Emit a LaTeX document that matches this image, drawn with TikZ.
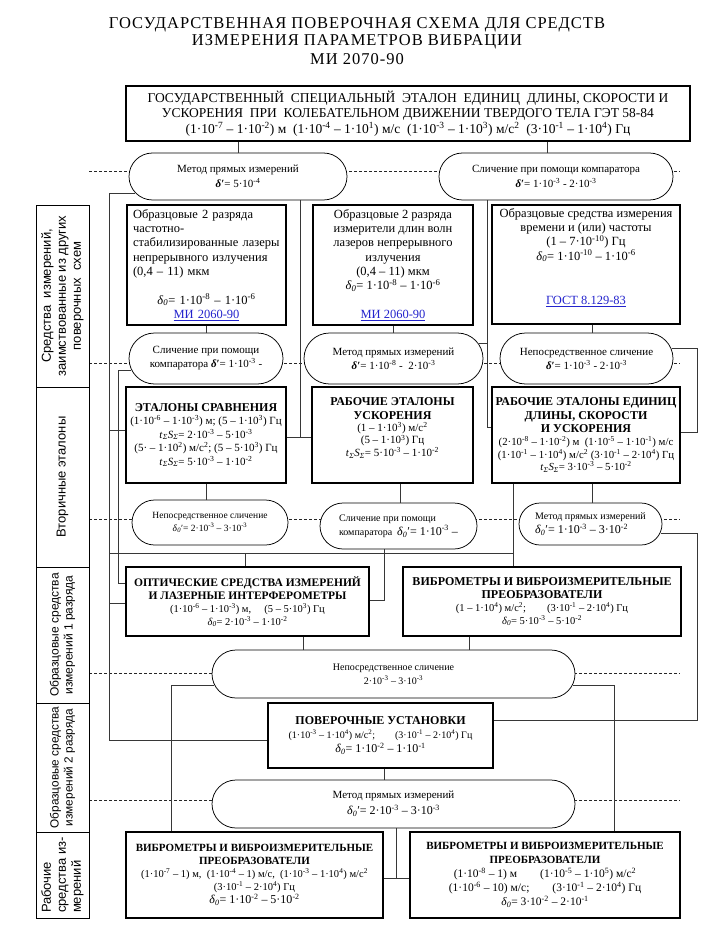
\documentclass[tikz,border=0pt]{standalone}
\usepackage{fontspec}
\setmainfont{Liberation Serif}
\newfontfamily\labfont{Liberation Sans}
\newfontfamily\titlefont[LetterSpace=6]{Liberation Serif}
\usetikzlibrary{shapes.misc}
\definecolor{linkblue}{RGB}{35,35,205}
\definecolor{lncol}{RGB}{55,55,55}
\newcommand\xp[1]{\textsuperscript{#1}}
\newcommand\dz{\textit{δ}\textsubscript{\textit{0}}}
\newcommand\dpr{\textbf{\textit{δ}′}}
\newcommand\dzp{\textit{δ}\textsubscript{\textit{0}}′}
\newcommand\tS{\textit{t}\textsubscript{\textit{Σ}}\textit{S}\textsubscript{\textit{Σ}}}
\newcommand\lnk[1]{\textcolor{linkblue}{\underline{#1}}}
\newcommand\fs[2]{\fontsize{#1}{#2}\selectfont}
\newcommand\hd[2][12]{{\bfseries\fontsize{#1}{14}\selectfont #2}}
\begin{document}
\begin{tikzpicture}[x=1pt,y=-1pt,
  box/.style={draw, line width=1.4pt, fill=white, align=center, inner sep=1pt},
  oval/.style={draw, rounded rectangle, line width=0.75pt, fill=white, align=center, inner sep=1pt},
  labbox/.style={draw, line width=0.7pt, rotate=90, align=center, inner sep=1pt, font=\labfont\fs{13}{15}},
  conn/.style={line width=0.8pt, draw=lncol},
  dline/.style={line width=0.6pt, dash pattern=on 3pt off 2pt, draw=black!85}]
\useasboundingbox[fill=white] (0,0) rectangle (717,949);

% title
\node[font=\titlefont\fs{16.5}{18}] (title1) at (357,25) {ГОСУДАРСТВЕННАЯ ПОВЕРОЧНАЯ СХЕМА ДЛЯ СРЕДСТВ};
\node[font=\titlefont\fs{16.5}{18}] (title2) at (357,42) {ИЗМЕРЕНИЯ ПАРАМЕТРОВ ВИБРАЦИИ};
\node[font=\titlefont\fs{16.5}{18}] (title3) at (357,59) {МИ 2070-90};

% dashed level lines
\foreach \yy in {171,363,519,673,800} \draw[dline] (89,\yy) -- (680,\yy);

% left labels
\node[labbox, minimum width=182pt, minimum height=53pt] (L1) at (62.5,296) {Средства\ \ измерений,\\заимствованные из других\\поверочных\ \ схем};
\node[labbox, minimum width=180pt, minimum height=53pt] (L2) at (62.5,477) {Вторичные эталоны};
\node[labbox, minimum width=136pt, minimum height=53pt, font=\labfont\fs{12}{14}] (L3) at (62.5,635) {Образцовые средства\\измерений 1 разряда};
\node[labbox, minimum width=129pt, minimum height=53pt, font=\labfont\fs{11.8}{14}] (L4) at (62.5,767.5) {Образцовые средства\\измерений 2 разряда};
\node[labbox, minimum width=86pt, minimum height=53pt, align=left] (L5) at (62.5,875) {Рабочие\\средства из-\\мерений};

% top box
\node[box, line width=1.6pt, minimum width=564pt, minimum height=55pt, font=\fs{13.5}{15.5}] (T) at (408,113.5)
 {ГОСУДАРСТВЕННЫЙ\ \ СПЕЦИАЛЬНЫЙ\ \ ЭТАЛОН\ \ ЕДИНИЦ\ \ ДЛИНЫ, СКОРОСТИ И\\
  УСКОРЕНИЯ\ \ ПРИ\ \ КОЛЕБАТЕЛЬНОМ ДВИЖЕНИИ ТВЕРДОГО ТЕЛА ГЭТ 58-84\\
  (1·10\xp{-7} – 1·10\xp{-2}) м\ \ (1·10\xp{-4} – 1·10\xp{1}) м/с\ \ (1·10\xp{-3} – 1·10\xp{3}) м/с\xp{2}\ \ (3·10\xp{-1} – 1·10\xp{4}) Гц};

% row 1 ovals
\node[oval, minimum width=220pt, minimum height=47pt, font=\fs{11}{15}] (O1) at (238,176.5) {Метод прямых измерений\\\dpr = 5·10\xp{-4}};
\node[oval, minimum width=236pt, minimum height=47pt, font=\fs{11}{15}] (O2) at (556,176.5) {Сличение при помощи компаратора\\\dpr = 1·10\xp{-3} - 2·10\xp{-3}};

% row 1 boxes
\node[box, minimum width=159pt, minimum height=120pt, text width=147pt, align=left, font=\fs{12.5}{14.3}] (B1) at (206.5,265)
 {Образцовые 2 разряда\\частотно-\\стабилизированные лазеры\\непрерывного излучения\\(0,4 – 11) мкм\\[14.3pt]\makebox[147pt]{\dz = 1·10\xp{-8} – 1·10\xp{-6}}\\\makebox[147pt]{\lnk{МИ 2060-90}}};
\node[box, minimum width=160pt, minimum height=120pt, font=\fs{12.5}{14.3}] (B2) at (393,265)
 {Образцовые 2 разряда\\измерители длин волн\\лазеров непрерывного\\излучения\\(0,4 – 11) мкм\\\dz = 1·10\xp{-8} – 1·10\xp{-6}\\[14.3pt]\lnk{МИ 2060-90}};
\node[box, minimum width=188pt, minimum height=119pt] (B3) at (586,264.5) {};
\node[anchor=north, align=center, font=\fs{12.5}{14.3}, inner sep=0pt] (B3t) at (586,208)
 {Образцовые средства измерения\\времени и (или) частоты\\(1 – 7·10\xp{-10}) Гц\\\dz = 1·10\xp{-10} – 1·10\xp{-6}\\[30pt]\lnk{ГОСТ 8.129-83}};

% row 2 ovals
\node[oval, minimum width=156pt, minimum height=51pt, font=\fs{11}{14}] (OA) at (206,358.5) {Сличение при помощи\\компаратора \dpr = 1·10\xp{-3} -};
\node[oval, minimum width=181pt, minimum height=51pt, font=\fs{11}{14}] (OB) at (393.5,358.5) {Метод прямых измерений\\\dpr = 1·10\xp{-8} -\ \ 2·10\xp{-3}};
\node[oval, minimum width=175pt, minimum height=51pt, font=\fs{11}{14}] (OC) at (586.5,358.5) {Непосредственное сличение\\\dpr = 1·10\xp{-3} - 2·10\xp{-3}};

% row 2 boxes
\node[box, minimum width=160pt, minimum height=96pt, font=\fs{11}{13.5}] (F) at (206,435)
 {\hd{ЭТАЛОНЫ СРАВНЕНИЯ}\\(1·10\xp{-6} – 1·10\xp{-3}) м; (5 – 1·10\xp{3}) Гц\\\tS = 2·10\xp{-3} – 5·10\xp{-3}\\(5· – 1·10\xp{2}) м/с\xp{2}; (5 – 5·10\xp{3}) Гц\\\tS = 5·10\xp{-3} – 1·10\xp{-2}};
\node[box, minimum width=161pt, minimum height=96pt, font=\fs{11}{11}] (G) at (392.5,435)
 {\hd{РАБОЧИЕ ЭТАЛОНЫ}\\[3pt]\hd{УСКОРЕНИЯ}\\[1pt](1 – 1·10\xp{3}) м/с\xp{2}\\(5 – 1·10\xp{3}) Гц\\\tS = 5·10\xp{-3} – 1·10\xp{-2}\\[5pt]\mbox{}};
\node[box, minimum width=188pt, minimum height=96pt, font=\fs{10.8}{11}] (H) at (586,435)
 {\hd{РАБОЧИЕ ЭТАЛОНЫ ЕДИНИЦ}\\[3pt]\hd{ДЛИНЫ, СКОРОСТИ}\\[2pt]\hd{И УСКОРЕНИЯ}\\[2pt](2·10\xp{-8} – 1·10\xp{-2}) м\ \ (1·10\xp{-5} – 1·10\xp{-1}) м/с\\(1·10\xp{-1} – 1·10\xp{4}) м/с\xp{2} (3·10\xp{-1} – 2·10\xp{4}) Гц\\\tS = 3·10\xp{-3} – 5·10\xp{-2}};

% row 3 ovals
\node[oval, minimum width=158pt, minimum height=45pt, font=\fs{9.5}{13}] (OD) at (210,522.5) {Непосредственное сличение\\\dzp = 2·10\xp{-3} – 3·10\xp{-3}};
\node[oval, minimum width=159pt, minimum height=46pt, align=left, font=\fs{10}{14}] (OE) at (398.5,526) {Сличение при помощи\\компаратора\ \ {\fs{12}{14}\dzp = 1·10\xp{-3} –}};
\node[oval, minimum width=145pt, minimum height=42pt, align=left, font=\fs{10}{14}] (OF) at (590.5,524) {Метод прямых измерений\\{\fs{12}{14}\dzp = 1·10\xp{-3} – 3·10\xp{-2}}};

% row 4 boxes
\node[box, minimum width=243pt, minimum height=69pt, font=\fs{10.5}{13}] (I) at (247.5,601.5)
 {\hd[11.5]{ОПТИЧЕСКИЕ СРЕДСТВА ИЗМЕРЕНИЙ}\\\hd[11.5]{И ЛАЗЕРНЫЕ ИНТЕРФЕРОМЕТРЫ}\\(1·10\xp{-6} – 1·10\xp{-3}) м,\quad\ (5 – 5·10\xp{3}) Гц\\\dz = 2·10\xp{-3} – 1·10\xp{-2}};
\node[box, minimum width=278pt, minimum height=69pt, font=\fs{10.5}{13}] (J) at (542,601.5)
 {\hd{ВИБРОМЕТРЫ И ВИБРОИЗМЕРИТЕЛЬНЫЕ}\\\hd{ПРЕОБРАЗОВАТЕЛИ}\\(1 – 1·10\xp{4}) м/с\xp{2};\qquad (3·10\xp{-1} – 2·10\xp{4}) Гц\\\dz = 5·10\xp{-3} – 5·10\xp{-2}};

% level ovals and verification box
\node[oval, minimum width=365pt, minimum height=48pt, font=\fs{10}{14}] (OG) at (393.5,674) {Непосредственное сличение\\2·10\xp{-3} – 3·10\xp{-3}};
\node[box, minimum width=225pt, minimum height=65pt, font=\fs{10}{14}] (M) at (380.5,735.5)
 {\hd{ПОВЕРОЧНЫЕ УСТАНОВКИ}\\(1·10\xp{-3} – 1·10\xp{4}) м/с\xp{2};\qquad (3·10\xp{-1} – 2·10\xp{4}) Гц\\{\fs{12}{14}\dz = 1·10\xp{-2} – 1·10\xp{-1}}};
\node[oval, minimum width=365pt, minimum height=48pt, font=\fs{11}{16}] (OH) at (393.5,804) {Метод прямых измерений\\{\fs{12}{14}\dzp = 2·10\xp{-3} – 3·10\xp{-3}}};

% bottom boxes
\node[box, minimum width=257pt, minimum height=86pt, font=\fs{10.5}{13}] (K) at (254.5,875)
 {\hd[11]{ВИБРОМЕТРЫ И ВИБРОИЗМЕРИТЕЛЬНЫЕ}\\\hd[11]{ПРЕОБРАЗОВАТЕЛИ}\\(1·10\xp{-7} – 1) м,\ \ (1·10\xp{-4} – 1) м/с,\ \ (1·10\xp{-3} – 1·10\xp{4}) м/с\xp{2}\\(3·10\xp{-1} – 2·10\xp{4}) Гц\\{\fs{12}{14}\dz = 1·10\xp{-2} – 5·10\xp{-2}}};
\node[box, minimum width=270pt, minimum height=86pt, font=\fs{11.5}{14}] (L) at (545,875)
 {\hd[11]{ВИБРОМЕТРЫ И ВИБРОИЗМЕРИТЕЛЬНЫЕ}\\\hd[11]{ПРЕОБРАЗОВАТЕЛИ}\\(1·10\xp{-8} – 1) м\qquad(1·10\xp{-5} – 1·10\xp{5}) м/с\xp{2}\\(1·10\xp{-6} – 10) м/с;\qquad (3·10\xp{-1} – 2·10\xp{4}) Гц\\\dz = 3·10\xp{-2} – 2·10\xp{-1}};

% helper coordinates
\coordinate (xa) at (109,0);
\coordinate (xb) at (118,0);
\coordinate (xc) at (300,0);
\coordinate (xd) at (487,0);
\coordinate (xe) at (697,0);
\coordinate (xf) at (513,0);
\coordinate (xg) at (245,0);
\coordinate (xh) at (384,0);
\coordinate (xi) at (171,0);
\coordinate (xj) at (614,0);
\coordinate (xk) at (396,0);
\coordinate (xl) at (547,0);
\coordinate (xm) at (400,0);
\coordinate (xn) at (592,0);
\coordinate (xo) at (303,0);
\coordinate (xq) at (469,0);
\coordinate (o1a) at (134.8,193);
\coordinate (oaa) at (130.7,370);
\coordinate (oba) at (478.7,343);
\coordinate (oca) at (671.7,348);
\coordinate (ofa) at (661,533);
\coordinate (oga) at (213.7,685);
\coordinate (ogb) at (573.3,685);
\coordinate (yF) at (0,430);
\coordinate (yG) at (0,437);
\coordinate (yH1) at (0,427);
\coordinate (yH2) at (0,432);
\coordinate (yBus) at (0,553);
\coordinate (yI1) at (0,583);
\coordinate (yI2) at (0,603);
\coordinate (yIr) at (0,600);
\coordinate (yM1) at (0,740);
\coordinate (yM2) at (0,720);
\coordinate (yKL) at (0,878);

% connectors
\draw[conn] (O1.north |- T.south) -- (O1.north);
\draw[conn] (xl |- T.south) -- (xl |- O2.north);
\draw[conn] (o1a) -| (xa |- yM1) -- (M.west |- yM1);
\draw[conn] (xa |- yF) -- (F.west |- yF);
\draw[conn] (xa |- yI2) -- (I.west |- yI2);
\draw[conn] (xa |- yBus) -- (xf |- yBus);
\draw[conn] (oaa) -| (xb |- yI1) -- (I.west |- yI1);
\draw[conn] (xc |- O1.south) -- (xc |- yG);
\draw[conn] (F.east |- yG) -- (G.west |- yG);
\draw[conn] (xd |- O2.south) |- (H.west |- yH1);
\draw[conn] (oba) -- (xd |- oba);
\draw[conn] (oca) -| (xe |- yH2) -- (H.east |- yH2);
\draw[conn] (B1.south) -- (B1.south |- OA.north);
\draw[conn] (B2.south) -- (B2.south |- OB.north);
\draw[conn] (xn |- B3.south) -- (xn |- OC.north);
\draw[conn] (F.south) -- (F.south |- OD.north);
\draw[conn] (xm |- G.south) -- (xm |- OE.north);
\draw[conn] (xn |- H.south) -- (xn |- OF.north);
\draw[conn] (xf |- H.south) -- (xf |- J.north);
\draw[conn] (xg |- yBus) -- (xg |- I.north);
\draw[conn] (xh |- OE.south) |- (I.east |- yIr);
\draw[conn] (ofa) -| (xe |- yM2) -- (M.east |- yM2);
\draw[conn] (xo |- I.south) -- (xo |- OG.north);
\draw[conn] (xq |- J.south) -- (xq |- OG.north);
\draw[conn] (oga) -| (xi |- K.north);
\draw[conn] (ogb) -| (xj |- L.north);
\draw[conn] (xh |- M.south) -- (xh |- OH.north);
\draw[conn] (xk |- OH.south) -- (xk |- yKL);
\draw[conn] (K.east |- yKL) -- (L.west |- yKL);
\end{tikzpicture}
\end{document}
